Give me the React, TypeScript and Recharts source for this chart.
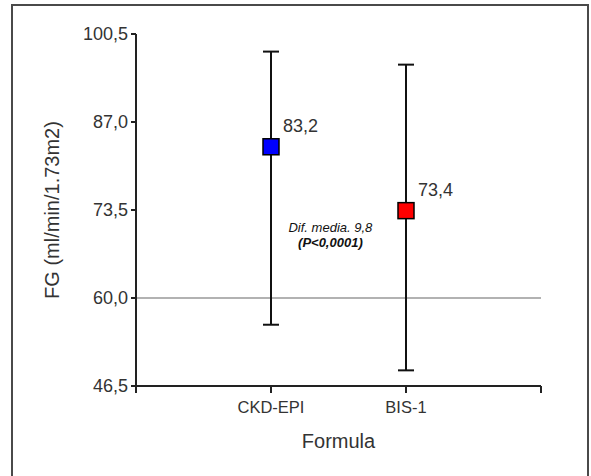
import {
  ComposedChart,
  Scatter,
  ErrorBar,
  XAxis,
  YAxis,
  ReferenceLine,
  ReferenceDot,
  Label,
} from "recharts";

// values
const formulas = ["CKD-EPI", "BIS-1"];
const means = [83.2, 73.4];
const lows = [55.9, 48.9];
const highs = [97.8, 95.8];
const colors = ["#0000FF", "#FF0000"];
const yTicks = [46.5, 60, 73.5, 87, 100.5];
const xTicks = [0, 1, 2, 3];
const cutoff = 60;
const noteLines = ["Dif. media. 9,8", "(P<0,0001)"];
const notePos = { x: 1.44, y: 70.8 };

const data = formulas.map((name, i) => ({
  x: i + 1,
  name,
  mean: means[i],
  err: [means[i] - lows[i], highs[i] - means[i]],
  color: colors[i],
}));

const fmt = (v: number) => v.toFixed(1).replace(".", ",");

const FONT = "'Liberation Sans', Arial, sans-serif";

const Marker = (props: any) => {
  const { cx, cy, payload } = props;
  return (
    <g>
      <rect
        x={cx - 8}
        y={cy - 8}
        width={16}
        height={16}
        fill={payload.color}
        stroke="#000"
        strokeWidth={1.5}
      />
      <text
        x={cx + 12}
        y={cy - 21}
        dominantBaseline="central"
        fontSize={18}
        fill="#333"
        fontFamily={FONT}
      >
        {fmt(payload.mean)}
      </text>
    </g>
  );
};

const Note = (props: any) => {
  const { cx, cy } = props;
  return (
    <g fontFamily={FONT} fontSize={13} fill="#111" textAnchor="middle">
      <text x={cx} y={cy} dominantBaseline="central" fontStyle="italic">
        {noteLines[0]}
      </text>
      <text
        x={cx}
        y={cy + 15}
        dominantBaseline="central"
        fontStyle="italic"
        fontWeight="bold"
      >
        {noteLines[1]}
      </text>
    </g>
  );
};

const App = () => {
  return (
    <div
      style={{
        position: "absolute",
        left: 0,
        top: 0,
        width: 591,
        height: 476,
        overflow: "hidden",
        background: "#fff",
      }}
    >
      <div
        style={{
          position: "absolute",
          left: 11,
          top: 4,
          width: 574,
          height: 520,
          border: "2px solid #4a4a4a",
        }}
      />
      <div style={{ position: "absolute", left: 0, top: 0 }}>
        <ComposedChart
          width={591}
          height={476}
          data={data}
          margin={{ top: 34, right: 50, bottom: 0, left: 0 }}
          style={{ fontFamily: FONT }}
        >
          <XAxis
            dataKey="x"
            type="number"
            domain={[0, 3]}
            ticks={xTicks}
            tickFormatter={(v: number) => formulas[v - 1] ?? ""}
            height={90}
            tickSize={7}
            tickMargin={8}
            axisLine={{ stroke: "#222", strokeWidth: 2 }}
            tickLine={{ stroke: "#222", strokeWidth: 2 }}
            tick={{ fill: "#333", fontSize: 16.5 }}
          >
            <Label
              value="Formula"
              position="insideTop"
              offset={48}
              fontSize={20}
              fill="#333"
            />
          </XAxis>
          <YAxis
            type="number"
            domain={[46.5, 100.5]}
            ticks={yTicks}
            tickFormatter={fmt}
            width={136}
            tickSize={5}
            tickMargin={3}
            axisLine={{ stroke: "#222", strokeWidth: 2 }}
            tickLine={{ stroke: "#222", strokeWidth: 2 }}
            tick={{ fill: "#333", fontSize: 18 }}
          >
            <Label
              value="FG (ml/min/1.73m2)"
              angle={-90}
              position="center"
              dx={-16}
              fontSize={20}
              fill="#333"
            />
          </YAxis>
          <ReferenceLine y={cutoff} stroke="#999" strokeWidth={1.5} />
          <Scatter
            dataKey="mean"
            shape={<Marker />}
            isAnimationActive={false}
          >
            <ErrorBar
              dataKey="err"
              direction="y"
              width={8}
              stroke="#111"
              strokeWidth={2}
            />
          </Scatter>
          <ReferenceDot
            x={notePos.x}
            y={notePos.y}
            r={0}
            shape={<Note />}
          />
        </ComposedChart>
      </div>
    </div>
  );
};

export default App;
